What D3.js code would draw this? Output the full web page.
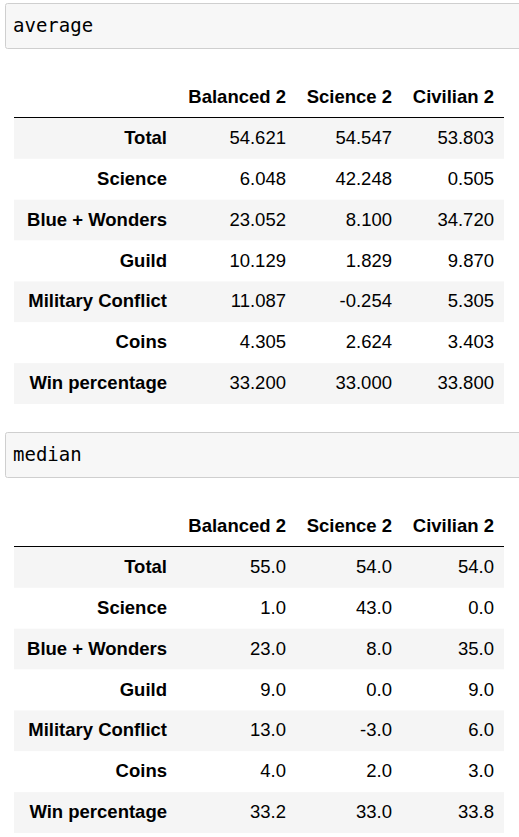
<!DOCTYPE html>
<html><head><meta charset="utf-8">
<script src="https://cdn.jsdelivr.net/npm/d3@7"></script>
<style>body{margin:0;background:#fff;}</style>
</head><body>
<script>
const columns = ['Balanced 2', 'Science 2', 'Civilian 2'];
const rowLabels = ['Total', 'Science', 'Blue + Wonders', 'Guild', 'Military Conflict', 'Coins', 'Win percentage'];
const averageValues = [
  [54.621, 54.547, 53.803],
  [6.048, 42.248, 0.505],
  [23.052, 8.100, 34.720],
  [10.129, 1.829, 9.870],
  [11.087, -0.254, 5.305],
  [4.305, 2.624, 3.403],
  [33.200, 33.000, 33.800]
];
const medianValues = [
  [55.0, 54.0, 54.0],
  [1.0, 43.0, 0.0],
  [23.0, 8.0, 35.0],
  [9.0, 0.0, 9.0],
  [13.0, -3.0, 6.0],
  [4.0, 2.0, 3.0],
  [33.2, 33.0, 33.8]
];

const svg = d3.select('body').append('svg').attr('width', 519).attr('height', 837);
const font = '"Liberation Sans", Arial, sans-serif';
const plain = d3.formatLocale({decimal: '.', thousands: ',', grouping: [3], currency: ['', ''], minus: '-'});

// column right edges
const colX = d3.scaleOrdinal().domain(['label', ...columns]).range([167, 286, 392, 494]);
const rowY = d3.scaleBand().domain(d3.range(rowLabels.length)).range([0, 286]);

function block(top, title, values, fmt) {
  const g = svg.append('g').attr('transform', `translate(0,${top})`);
  g.append('rect').attr('x', 5.5).attr('y', 0.5).attr('width', 530).attr('height', 45)
    .attr('rx', 2).attr('fill', '#f7f7f7').attr('stroke', '#cfcfcf');
  g.append('text').attr('x', 13).attr('y', 29).text(title)
    .attr('font-family', '"DejaVu Sans Mono", monospace').attr('font-size', 19).attr('fill', '#000');

  const t = g.append('g').attr('transform', 'translate(0,114)');
  t.selectAll('text.h').data(columns).join('text').attr('class', 'h')
    .attr('x', d => colX(d)).attr('y', -14).attr('text-anchor', 'end')
    .attr('font-family', font).attr('font-size', 18.5).attr('font-weight', 'bold').text(d => d);
  t.append('line').attr('x1', 14).attr('x2', 504).attr('y1', 0.5).attr('y2', 0.5).attr('stroke', '#000');

  const rows = t.selectAll('g.r').data(rowLabels).join('g').attr('class', 'r')
    .attr('transform', (d, i) => `translate(0,${1 + rowY(i)})`);
  rows.append('rect').attr('x', 14).attr('width', 490).attr('height', rowY.bandwidth())
    .attr('fill', (d, i) => i % 2 === 0 ? '#f5f5f5' : '#fff');
  rows.append('text').attr('x', colX('label')).attr('y', 26).attr('text-anchor', 'end')
    .attr('font-family', font).attr('font-size', 18.5).attr('font-weight', 'bold').text(d => d);
  rows.each(function(d, i) {
    d3.select(this).selectAll('text.v').data(values[i]).join('text').attr('class', 'v')
      .attr('x', (v, j) => colX(columns[j])).attr('y', 26).attr('text-anchor', 'end')
      .attr('font-family', font).attr('font-size', 18.5).text(v => fmt(v));
  });
}

block(3, 'average', averageValues, plain.format('.3f'));
block(432, 'median', medianValues, plain.format('.1f'));
</script>
</body></html>
